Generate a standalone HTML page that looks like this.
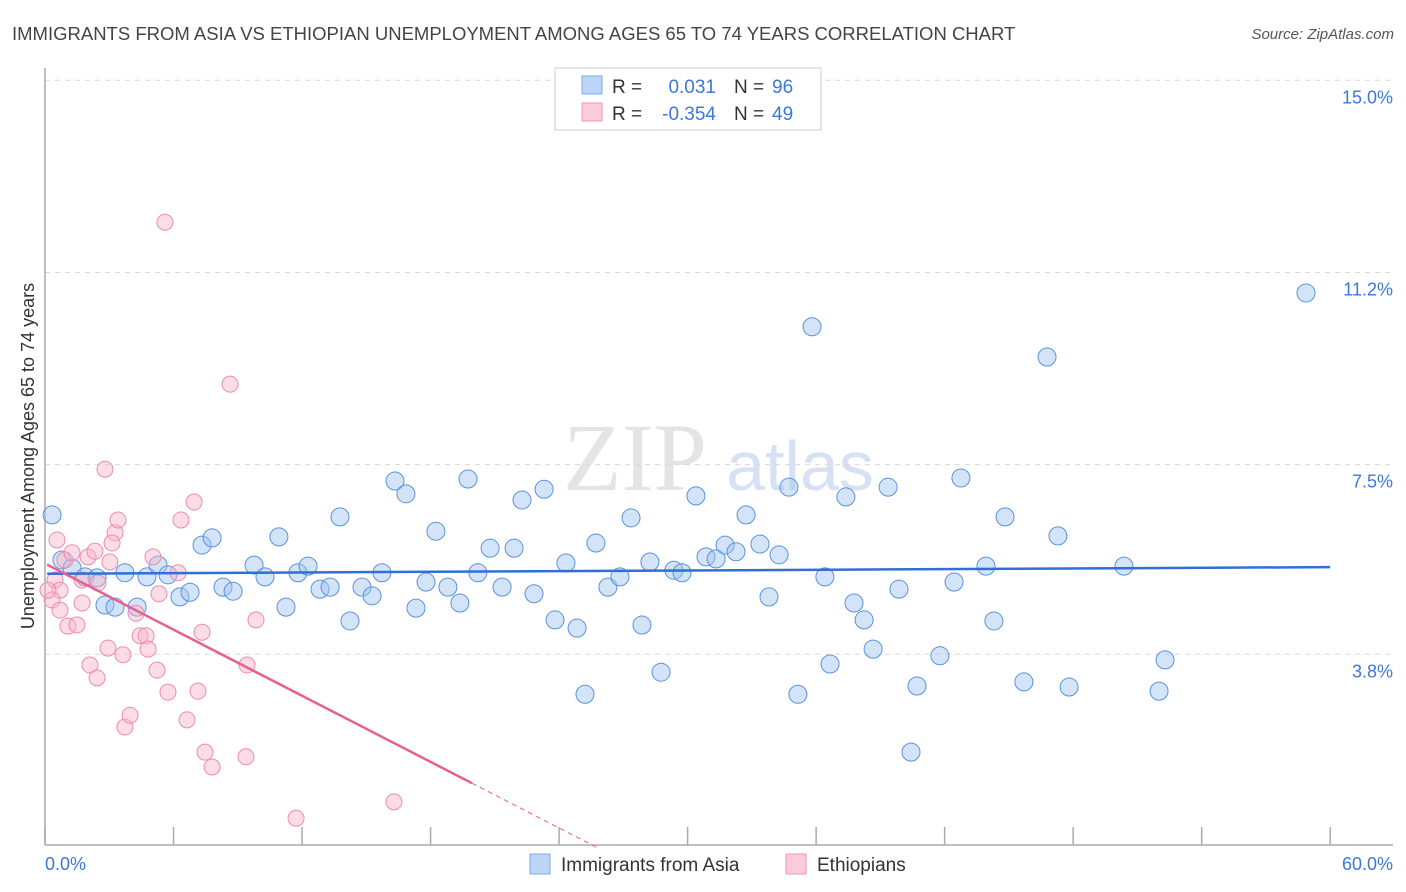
<!DOCTYPE html>
<html><head><meta charset="utf-8"><style>
body{margin:0;background:#fff;font-family:"Liberation Sans",sans-serif;}
svg{display:block}
</style></head><body>
<svg id="chart" width="1406" height="892" xmlns="http://www.w3.org/2000/svg">
<text x="12" y="40" font-size="18.5" fill="#444">IMMIGRANTS FROM ASIA VS ETHIOPIAN UNEMPLOYMENT AMONG AGES 65 TO 74 YEARS CORRELATION CHART</text>
<text x="1394" y="39" font-size="15" fill="#555" font-style="italic" text-anchor="end">Source: ZipAtlas.com</text>
<text x="635" y="490" font-size="96" font-family="Liberation Serif,serif" fill="#e4e4e4" text-anchor="middle">ZIP</text>
<text x="800" y="490" font-size="70" fill="#d6e2f3" text-anchor="middle">atlas</text>
<g id="grid"></g><g id="axes"></g><g id="blue"></g><g id="pink"></g><g id="lines"></g>
<text transform="translate(34,456) rotate(-90)" font-size="18" fill="#333" text-anchor="middle">Unemployment Among Ages 65 to 74 years</text>
<text x="45" y="870" font-size="18" fill="#3b78d8">0.0%</text>
<text x="1393" y="870" font-size="18" fill="#3b78d8" text-anchor="end">60.0%</text>
<g>
<rect x="555" y="68" width="266" height="62" fill="#fff" stroke="#ccc"/>
<rect x="582" y="76" width="20" height="18" fill="#bcd4f5" stroke="#7fa7e6"/>
<rect x="582" y="103" width="20" height="18" fill="#fbcbd9" stroke="#ef9ab4"/>
<text x="612" y="93" font-size="19" fill="#333">R =</text>
<text x="716" y="93" font-size="19" fill="#3b78d8" text-anchor="end">0.031</text>
<text x="734" y="93" font-size="19" fill="#333">N =</text>
<text x="772" y="93" font-size="19" fill="#3b78d8">96</text>
<text x="612" y="120" font-size="19" fill="#333">R =</text>
<text x="716" y="120" font-size="19" fill="#3b78d8" text-anchor="end">-0.354</text>
<text x="734" y="120" font-size="19" fill="#333">N =</text>
<text x="772" y="120" font-size="19" fill="#3b78d8">49</text>
</g>
<g>
<rect x="530" y="854" width="20" height="20" fill="#bcd4f5" stroke="#7fa7e6"/>
<text x="561" y="871" font-size="19" fill="#333">Immigrants from Asia</text>
<text x="817" y="871" font-size="19" fill="#333">Ethiopians</text>
<rect x="786" y="854" width="20" height="20" fill="#fbcbd9" stroke="#ef9ab4"/>
</g>
</svg>
<script>
const yTicks=[15,11.25,7.5,3.8];
const yTickLabels=["15.0%","11.2%","7.5%","3.8%"];
const xTicks=[0,6,12,18,24,30,36,42,48,54,60];
const asiaX=[0.33,0.79,1.26,1.87,2.43,2.80,3.27,3.73,4.30,4.76,5.28,5.74,6.30,6.77,7.33,7.80,8.31,8.78,9.76,10.27,10.92,11.25,11.81,12.28,12.84,13.31,13.77,14.24,14.80,15.27,15.73,16.34,16.85,17.32,17.79,18.25,18.81,19.37,19.75,20.21,20.78,21.34,21.90,22.27,22.83,23.30,23.81,24.32,24.84,25.21,25.72,26.28,26.84,27.36,27.87,28.24,28.76,29.36,29.74,30.39,30.86,31.33,31.75,32.26,32.73,33.38,33.80,34.27,34.73,35.15,35.81,36.41,36.65,37.39,37.77,38.24,38.66,39.36,39.87,40.43,40.71,41.78,42.44,42.76,43.93,44.30,44.82,45.70,46.78,47.29,47.81,50.37,52.01,52.29,58.87];
const asiaY=[6.52,5.64,5.48,5.31,5.29,4.76,4.72,5.39,4.72,5.31,5.54,5.35,4.92,5.01,5.93,6.07,5.11,5.03,5.54,5.31,6.09,4.72,5.39,5.52,5.07,5.11,6.48,4.45,5.11,4.94,5.39,7.18,6.93,4.70,5.21,6.20,5.11,4.80,7.22,5.39,5.87,5.11,5.87,6.81,4.98,7.02,4.47,5.58,4.31,3.02,5.97,5.11,5.31,6.46,4.37,5.60,3.45,5.44,5.39,6.89,5.70,5.66,5.93,5.80,6.52,5.95,4.92,5.74,7.06,3.02,10.19,5.31,3.61,6.87,4.80,4.47,3.90,7.06,5.07,1.89,3.18,3.77,5.21,7.24,5.52,4.45,6.48,3.26,9.60,6.11,3.16,5.52,3.08,3.69,10.85];
const ethX=[0.47,0.70,0.33,0.70,0.93,1.26,1.07,1.49,1.73,2.01,2.10,2.33,2.47,2.43,2.80,2.94,3.27,3.41,3.03,3.64,3.73,3.97,4.25,4.44,4.72,4.81,5.04,5.23,5.32,5.74,6.21,6.35,6.63,6.96,7.14,7.33,7.47,7.80,5.60,8.64,9.43,9.38,9.85,11.72,16.29,0.56,0.14,3.13,1.73];
const ethY=[5.25,5.05,4.86,4.66,5.64,5.78,4.35,4.37,4.80,5.70,3.59,5.81,5.19,3.34,7.41,3.92,6.17,6.42,5.60,3.79,2.38,2.61,4.60,4.16,4.16,3.90,5.70,3.49,4.98,3.06,5.39,6.42,2.52,6.77,3.08,4.23,1.89,1.60,12.23,9.07,3.59,1.80,4.47,0.60,0.92,6.03,5.05,5.97,5.25];
const asiaTrend=[5.37,5.50];       // value at x=0, x=60
const ethTrend=[5.57,-0.215,19.93]; // intercept, slope, end of solid part
const X=v=>45+v*21.42, Y=v=>849-v*51.25;
const NS="http://www.w3.org/2000/svg";
function mk(p,tag,a){const e=document.createElementNS(NS,tag);for(const k in a)e.setAttribute(k,a[k]);p.appendChild(e);return e;}
const grid=document.getElementById('grid');
yTicks.forEach((t,i)=>{
 const l=mk(grid,'line',{x1:45,x2:1393,y1:Y(t),y2:Y(t),stroke:'#d8d8d8','stroke-dasharray':'5,5'});
 
 
 const tx=mk(grid,'text',{x:1393,y:Y(t)+23,'font-size':18,fill:'#3b78d8','text-anchor':'end'});
 tx.textContent=yTickLabels[i];
 
 
});
const axes=document.getElementById('axes');
const ya=mk(axes,'line',{x1:45,x2:45,y1:68,y2:845,stroke:'#aaa','stroke-width':1.5});


const xa=mk(axes,'line',{x1:45,x2:1393,y1:845,y2:845,stroke:'#aaa','stroke-width':1.5});


xTicks.forEach(t=>{
 const k=mk(axes,'line',{x1:X(t),x2:X(t),y1:827,y2:845,stroke:'#aaa','stroke-width':1.5});
 
 
});
const gb=document.getElementById('blue');
asiaX.forEach((x,i)=>{
 const c=mk(gb,'circle',{cx:X(x),cy:Y(asiaY[i]),r:9,fill:'rgba(160,196,240,0.45)',stroke:'#5a92e0','stroke-width':1});
 
 
});
const gp=document.getElementById('pink');
ethX.forEach((x,i)=>{
 const c=mk(gp,'circle',{cx:X(x),cy:Y(ethY[i]),r:8,fill:'rgba(248,180,200,0.45)',stroke:'#ee8cab','stroke-width':1});
 
 
});
const gl=document.getElementById('lines');
const bl=mk(gl,'line',{x1:X(0.1),y1:Y(asiaTrend[0]),x2:X(60),y2:Y(asiaTrend[1]),stroke:'#2f6fd6','stroke-width':2.5});


const pe=ethTrend[2], zero=-ethTrend[0]/ethTrend[1];
const pl=mk(gl,'line',{x1:X(0.1),y1:Y(ethTrend[0]+ethTrend[1]*0.1),x2:X(pe),y2:Y(ethTrend[0]+ethTrend[1]*pe),stroke:'#e8608e','stroke-width':2.5});


const pd=mk(gl,'line',{x1:X(pe),y1:Y(ethTrend[0]+ethTrend[1]*pe),x2:X(zero),y2:Y(0),stroke:'#e8608e','stroke-width':1,'stroke-dasharray':'5,4'});


</script>
</body></html>
